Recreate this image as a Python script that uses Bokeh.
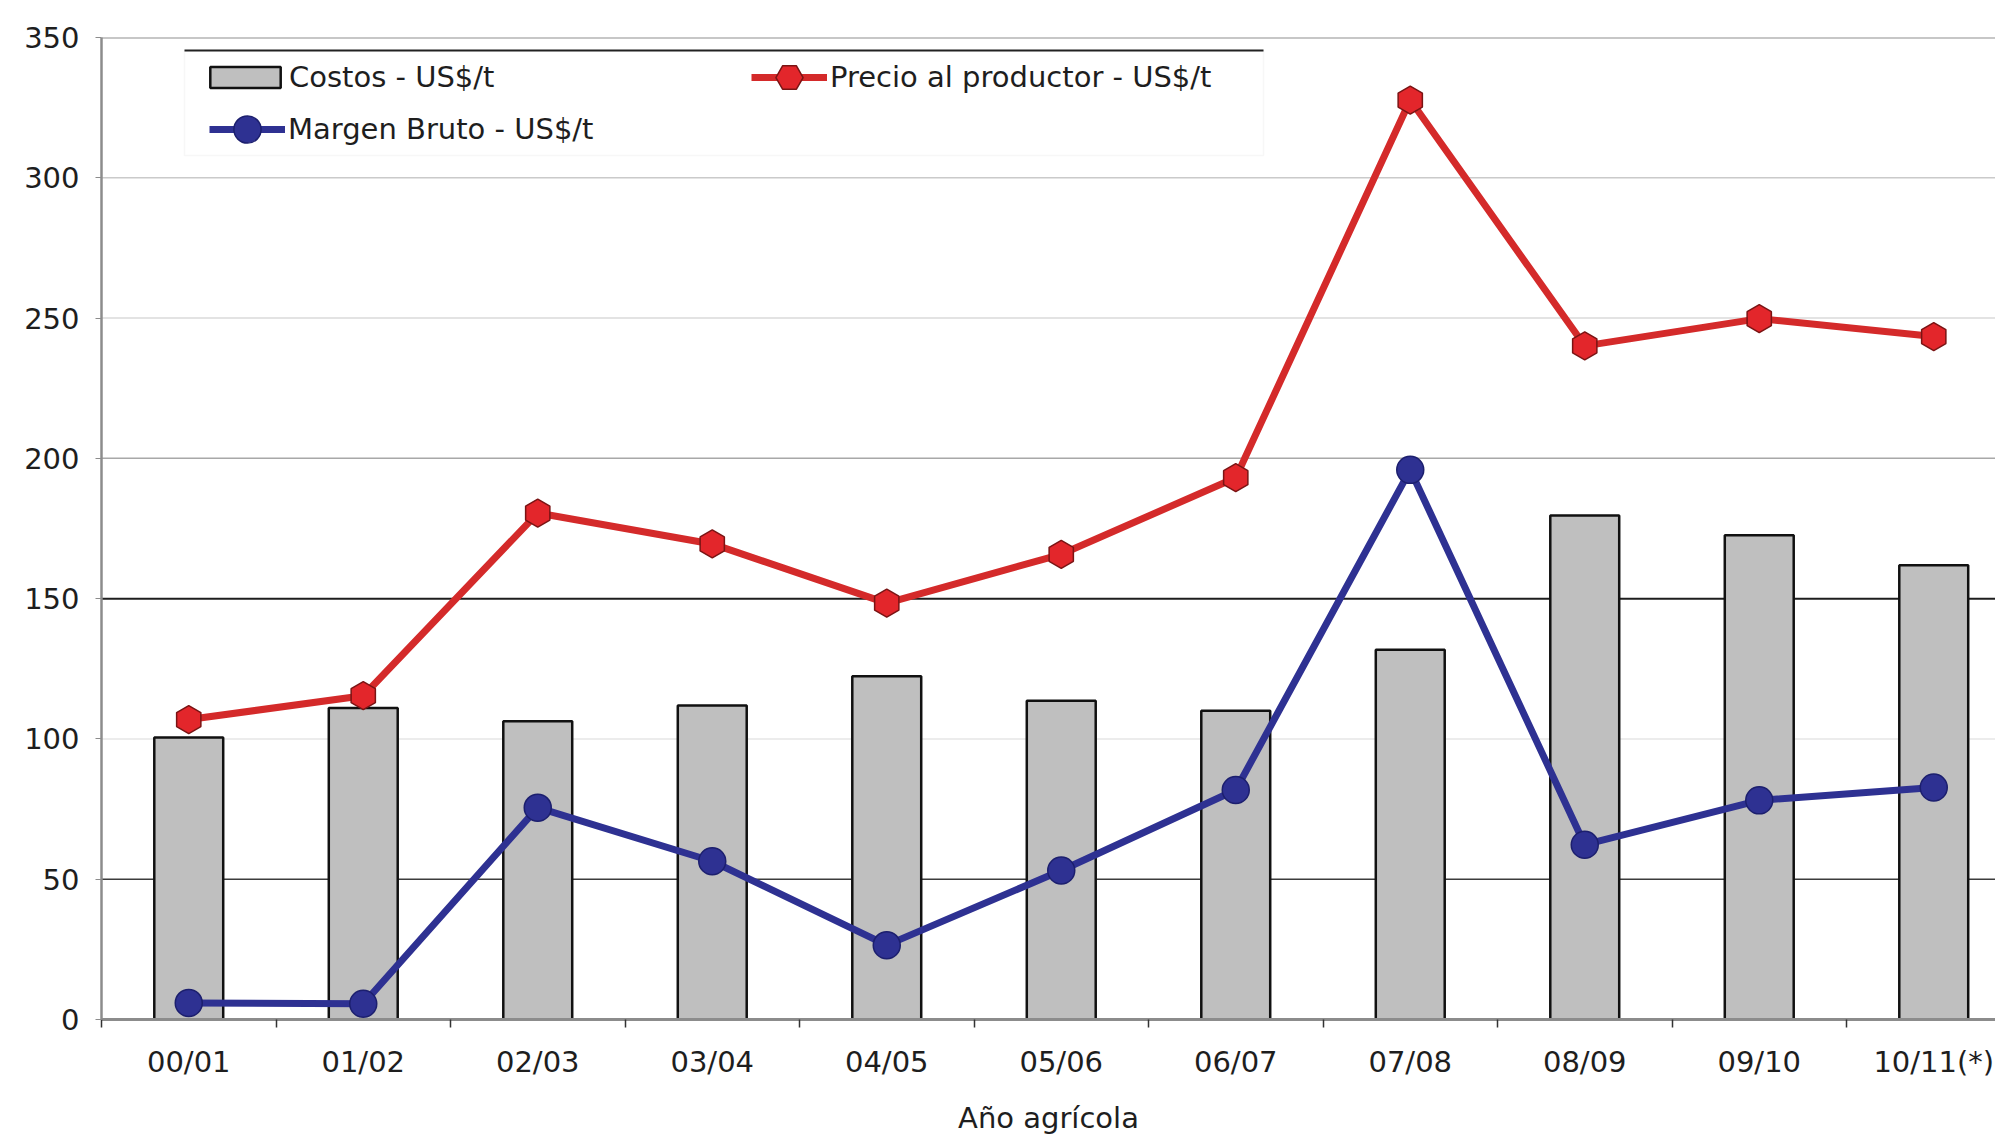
import numpy as np
from bokeh.plotting import figure
from bokeh.models import (Range1d, FixedTicker, Span, Legend, LegendItem,
                          BoxAnnotation, ColumnDataSource)
from bokeh.embed import file_html
from bokeh.resources import INLINE

# Campañas agrícolas
campanas = ["00/01", "01/02", "02/03", "03/04", "04/05", "05/06",
            "06/07", "07/08", "08/09", "09/10", "10/11(*)"]

# Valores en US$/t
costos = [100.5, 111.0, 106.3, 111.9, 122.3, 113.6, 110.0, 131.8, 179.6, 172.6, 161.9]
precio = [106.9, 115.4, 180.5, 169.5, 148.4, 165.8, 193.1, 327.7, 240.1, 249.8, 243.4]
margen = [5.9, 5.6, 75.5, 56.4, 26.5, 53.1, 81.8, 195.9, 62.3, 78.1, 82.7]

y_ticks = [0, 50, 100, 150, 200, 250, 300, 350]
grid_colors = ["#8a8a8a", "#3c3c3c", "#e6e6e6", "#1e1e1e", "#a8a8a8",
               "#dadada", "#cacaca", "#909090"]

FONT = "DejaVu Sans"
TXT = "#1e1e1e"
RED, RED_EDGE = "#d42a2a", "#7a1414"
BLUE, BLUE_EDGE = "#2e3192", "#1c1f6e"

W, H = 1995, 1137
LEFT, TOP, BOTTOM = 101, 37, 117
CAT_PX = 174.5  # ancho de cada categoría en píxeles
FRAME_BOTTOM = H - BOTTOM

x = np.arange(len(campanas))
src = ColumnDataSource(dict(x=x, costos=costos, precio=precio, margen=margen))

x_end = -0.5 + (W - LEFT) / CAT_PX

p = figure(width=W, height=H, output_backend="svg", toolbar_location=None,
           x_range=Range1d(-0.5, x_end), y_range=Range1d(0, 350),
           min_border_left=LEFT, min_border_right=0, min_border_top=TOP,
           min_border_bottom=BOTTOM)
p.outline_line_color = None
p.background_fill_color = "white"
p.xgrid.grid_line_color = None
p.ygrid.grid_line_color = None

# líneas horizontales de referencia
for v, c in zip(y_ticks, grid_colors):
    if v == 0:
        continue
    p.add_layout(Span(location=v, dimension="width", line_color=c,
                      line_width=2 if v in (150, 350) else 1.5, level="underlay"))

# ejes
xa = p.xaxis[0]
xa.ticker = FixedTicker(ticks=list(x), minor_ticks=list(np.arange(-0.5, len(campanas), 1.0)))
xa.major_label_overrides = {int(i): c for i, c in zip(x, campanas)}
xa.major_tick_line_color = None
xa.major_tick_out = 8
xa.major_tick_in = 0
xa.minor_tick_line_color = "#333333"
xa.minor_tick_line_width = 1.5
xa.minor_tick_out = 8
xa.minor_tick_in = 0
xa.axis_line_color = "#8c8c8c"
xa.axis_line_width = 3
xa.major_label_text_font = FONT
xa.major_label_text_font_size = "29px"
xa.major_label_text_color = TXT
xa.major_label_standoff = 17
xa.axis_label = "Año agrícola"
xa.axis_label_text_font = FONT
xa.axis_label_text_font_size = "29px"
xa.axis_label_text_font_style = "normal"
xa.axis_label_text_color = TXT
xa.axis_label_standoff = 19

ya = p.yaxis[0]
ya.ticker = FixedTicker(ticks=y_ticks)
ya.axis_line_color = "#8c8c8c"
ya.axis_line_width = 2.5
ya.major_tick_line_color = "#8c8c8c"
ya.major_tick_out = 6
ya.major_tick_in = 0
ya.minor_tick_line_color = None
ya.major_label_text_font = FONT
ya.major_label_text_font_size = "29px"
ya.major_label_text_color = TXT
ya.major_label_standoff = 16

# barras de costos
bars = p.vbar(x="x", top="costos", bottom=0, width=0.395, source=src,
              fill_color="#bfbfbf", line_color="#111111", line_width=2.5)

# precio al productor
l_precio = p.line("x", "precio", source=src, line_color=RED, line_width=7)
m_precio = p.scatter("x", "precio", source=src, marker="hex", angle=np.pi / 2,
                     size=28, fill_color="#e3262b", line_color=RED_EDGE, line_width=1.5)

# margen bruto
l_margen = p.line("x", "margen", source=src, line_color=BLUE, line_width=7)
m_margen = p.scatter("x", "margen", source=src, marker="circle", size=27,
                     fill_color=BLUE, line_color=BLUE_EDGE, line_width=1.5)

# recuadro de la leyenda
box_l, box_r, box_t, box_b = 184, 1263, 51, 156
p.add_layout(BoxAnnotation(left=box_l - LEFT, right=box_r - LEFT,
                           top=FRAME_BOTTOM - box_t, bottom=FRAME_BOTTOM - box_b,
                           left_units="screen", right_units="screen",
                           top_units="screen", bottom_units="screen",
                           fill_color="white", fill_alpha=1,
                           line_color="#e4e4e4", line_width=1.5, level="annotation"))
p.add_layout(BoxAnnotation(left=box_l - LEFT, right=box_r - LEFT,
                           top=FRAME_BOTTOM - box_t + 1, bottom=FRAME_BOTTOM - box_t - 1,
                           left_units="screen", right_units="screen",
                           top_units="screen", bottom_units="screen",
                           fill_color="#222222", fill_alpha=1, line_color=None,
                           level="annotation"))


def make_legend(item, left, center_y, gw, gh, standoff):
    """Una entrada de leyenda; center_y es la altura de su centro desde arriba."""
    h = max(gh, 34)
    return Legend(items=[item], location=(left - LEFT, FRAME_BOTTOM - center_y - h / 2),
                  orientation="vertical", border_line_color=None,
                  background_fill_alpha=0, padding=0, margin=0, spacing=0,
                  glyph_width=gw, glyph_height=gh, label_height=34,
                  label_standoff=standoff, label_text_font=FONT,
                  label_text_font_size="29px", label_text_color=TXT,
                  label_text_baseline="middle")


leg_costos = make_legend(LegendItem(label="Costos - US$/t", renderers=[bars]),
                         201, 78, 88, 26, 0)
leg_margen = make_legend(LegendItem(label="Margen Bruto - US$/t",
                                    renderers=[l_margen, m_margen]),
                         209, 130, 76, 68, 3)
leg_precio = make_legend(LegendItem(label="Precio al productor - US$/t",
                                    renderers=[l_precio, m_precio]),
                         751, 78, 76, 68, 3)
for lg in (leg_costos, leg_margen, leg_precio):
    p.add_layout(lg, "center")

open("out.html", "w").write(file_html(p, INLINE))
